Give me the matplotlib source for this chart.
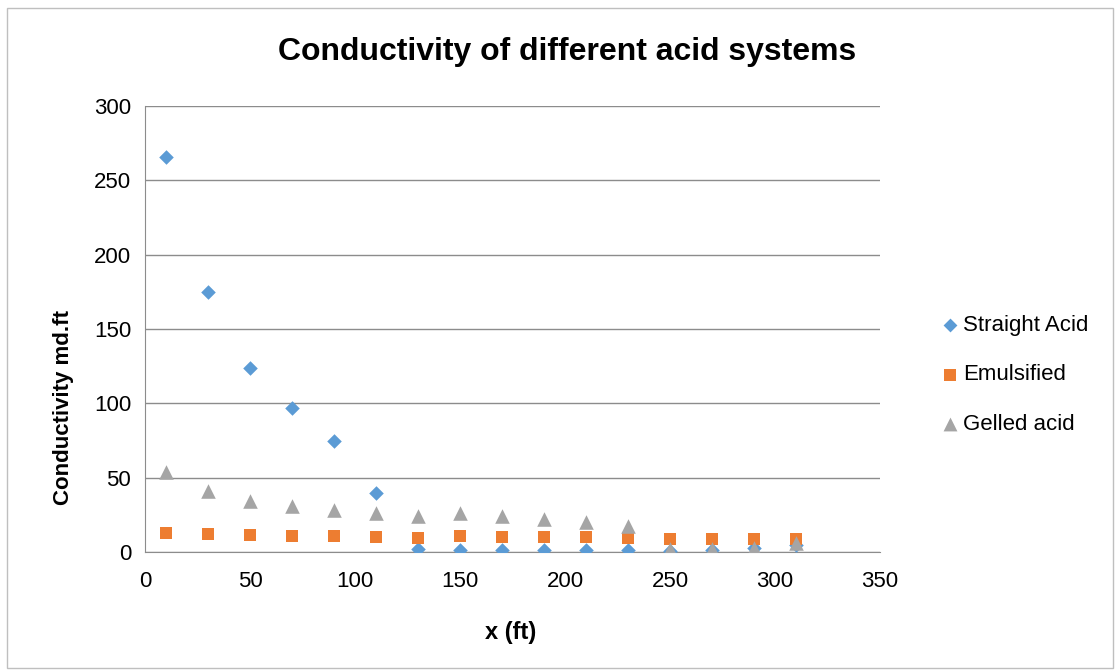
import matplotlib
matplotlib.use('Agg')
import matplotlib.pyplot as plt
from matplotlib.patches import Rectangle

# Dados
x = [10, 30, 50, 70, 90, 110, 130, 150, 170, 190, 210, 230, 250, 270, 290, 310]
straight_acid = [266, 175, 123.5, 97, 74.5, 40, 2, 1.5, 1, 1, 1, 1, 0.5, 1, 2.5, 5]
emulsified = [13, 12.4, 11.5, 11, 10.6, 10.1, 9.6, 10.6, 10.4, 10, 9.8, 9.3, 9, 9, 9, 8.5]
gelled_acid = [54, 41, 34, 31, 28.5, 26.5, 24.5, 26.5, 24.5, 22, 20.5, 17.5, 2, 2, 3, 6]

plt.rcParams['font.family'] = ['Liberation Sans', 'DejaVu Sans']

fig = plt.figure(figsize=(11.2, 6.72), dpi=100)
ax = fig.add_axes([0.1295, 0.1786, 0.6562, 0.6637])

ax.scatter(x, straight_acid, marker='D', s=55, color='#5B9BD5', label='Straight Acid', zorder=3, linewidths=0)
ax.scatter(x, emulsified, marker='s', s=75, color='#ED7D31', label='Emulsified', zorder=3, linewidths=0)
ax.scatter(x, gelled_acid, marker='^', s=110, color='#A5A5A5', label='Gelled acid', zorder=3, linewidths=0)

ax.set_xlim(0, 350)
ax.set_ylim(0, 300)
ax.set_xticks(range(0, 351, 50))
ax.set_yticks(range(0, 301, 50))
ax.tick_params(length=0, labelsize=16)
ax.tick_params(axis='x', pad=14)
ax.tick_params(axis='y', pad=10)
ax.grid(axis='y', color='#8C8C8C', linewidth=1)
ax.set_axisbelow(True)
for s in ['top', 'right']:
    ax.spines[s].set_visible(False)
for s in ['left', 'bottom']:
    ax.spines[s].set_color('#8C8C8C')

fig.text(0.506, 0.922, 'Conductivity of different acid systems', fontsize=23, fontweight='bold',
         ha='center', va='center')
ax.set_xlabel('x (ft)', fontsize=17, fontweight='bold')
ax.set_ylabel('Conductivity md.ft', fontsize=16, fontweight='bold')
ax.xaxis.set_label_coords(0.498, -0.155)
ax.yaxis.set_label_coords(-0.097, 0.325)

ax.legend(loc='center left', bbox_to_anchor=(1.05, 0.397), frameon=False, fontsize=16,
          handletextpad=0.0, handlelength=1.2, labelspacing=1.3, markerscale=0.95)

fig.patches.append(Rectangle((0.006, 0.006), 0.988, 0.982, transform=fig.transFigure,
                             fill=False, edgecolor='#BFBFBF', linewidth=1))

plt.savefig('out.png')
